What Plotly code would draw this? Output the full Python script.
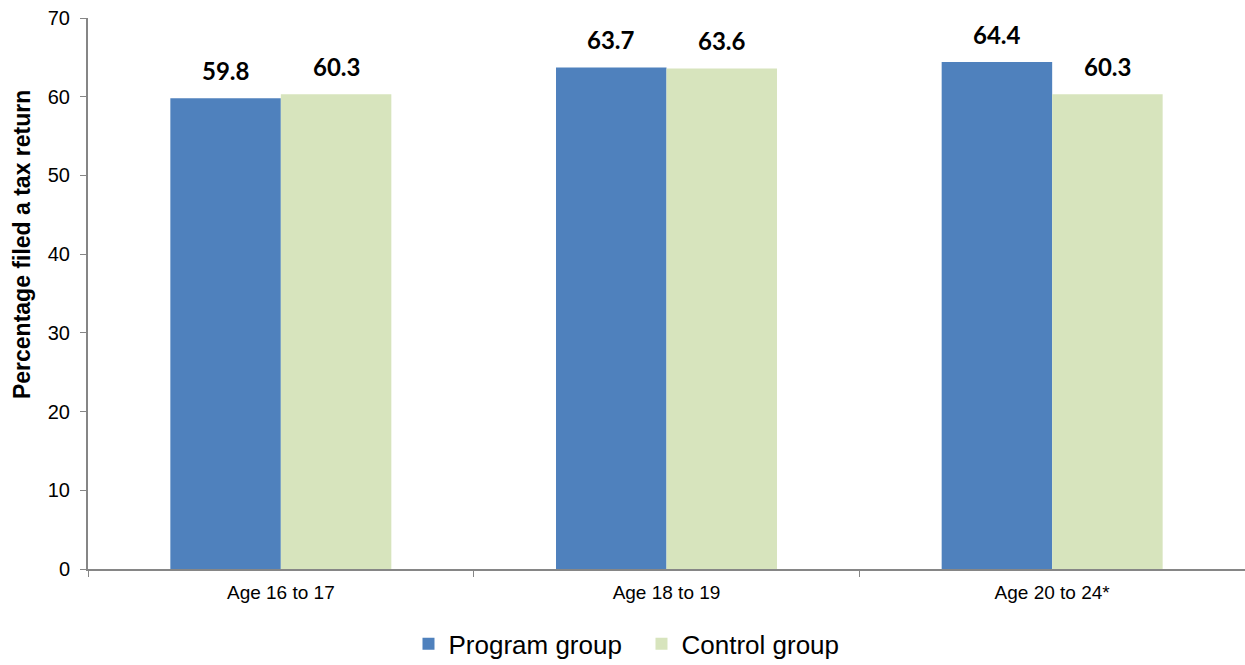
import plotly.graph_objects as go

categories = ["Age 16 to 17", "Age 18 to 19", "Age 20 to 24*"]
program_group = [59.8, 63.7, 64.4]
control_group = [60.3, 63.6, 60.3]
series_names = ["Program group", "Control group"]
y_ticks = [0, 10, 20, 30, 40, 50, 60, 70]

blue = "#4F81BD"
green = "#D7E4BD"
axis_gray = "#868686"

fig = go.Figure()
fig.add_trace(go.Bar(x=categories, y=program_group, name=series_names[0],
                     marker=dict(color=blue, line=dict(width=0))))
fig.add_trace(go.Bar(x=categories, y=control_group, name=series_names[1],
                     marker=dict(color=green, line=dict(width=0))))

# value labels above each bar
half = 55.5
for vals, shift in ((program_group, -half), (control_group, half)):
    for cat, v in zip(categories, vals):
        fig.add_annotation(x=cat, y=v, text=f"<b>{v:.1f}</b>", showarrow=False,
                           xshift=shift, yshift=28, yanchor="middle",
                           font=dict(family="Lato, Open Sans, sans-serif", size=24, color="#000000"))

# rotated axis title
fig.add_annotation(xref="paper", yref="paper", x=-0.057, y=0.588,
                   text="<b>Percentage filed a tax return</b>", textangle=-90,
                   showarrow=False, xanchor="center", yanchor="middle",
                   font=dict(family="Liberation Sans, Arial, sans-serif", size=23, color="#000000"))

fig.update_layout(
    width=1245, height=665,
    margin=dict(l=88, r=0, t=18, b=96, autoexpand=False),
    paper_bgcolor="white", plot_bgcolor="white",
    barmode="group", bargap=0.427, bargroupgap=0,
    font=dict(family="Liberation Sans, Arial, sans-serif", color="#000000"),
    xaxis=dict(showline=True, linecolor=axis_gray, linewidth=2,
               ticks="outside", tickson="boundaries", ticklen=6, tickcolor=axis_gray,
               ticklabelstandoff=5,
               tickfont=dict(size=19), showgrid=False, zeroline=False),
    yaxis=dict(range=[0, 70], tickvals=y_ticks, showline=True, linecolor=axis_gray,
               linewidth=2, ticks="outside", ticklen=6, tickcolor=axis_gray,
               ticklabelstandoff=6,
               tickfont=dict(size=20), showgrid=False, zeroline=False),
    legend=dict(orientation="h", x=0.277, xanchor="left", y=-0.093, yanchor="top",
                font=dict(size=26), itemsizing="constant", traceorder="normal",
                entrywidth=188, entrywidthmode="pixels"),
    showlegend=True,
)

fig.write_html("out.html")
